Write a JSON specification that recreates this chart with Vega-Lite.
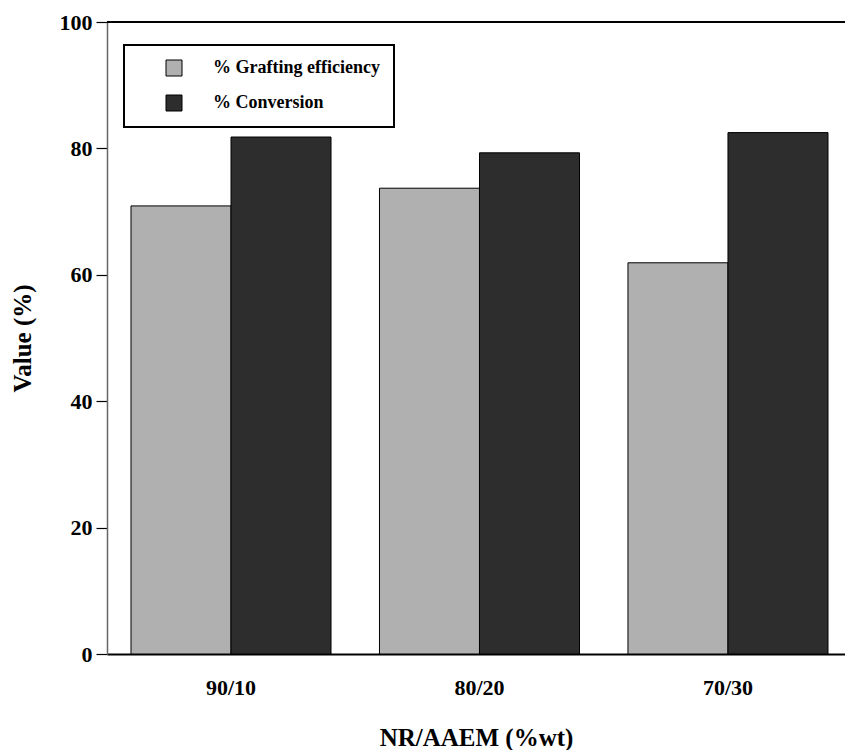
{
  "$schema": "https://vega.github.io/schema/vega-lite/v6.json",
  "width": 738,
  "height": 632,
  "autosize": {"type": "none"},
  "padding": {"left": 107, "top": 22, "right": 0, "bottom": 96},
  "background": "white",
  "config": {
    "view": {"stroke": null},
    "font": "Liberation Serif",
    "axis": {"labelFont": "Liberation Serif", "titleFont": "Liberation Serif", "labelFontWeight": "bold", "titleFontWeight": "bold", "labelColor": "black", "titleColor": "black", "grid": false},
    "legend": {"labelFont": "Liberation Serif", "labelFontWeight": "bold", "labelLimit": 400}
  },
  "data": {
    "values": [
      {"ratio": "90/10", "series": "% Grafting efficiency", "value": 70.9},
      {"ratio": "90/10", "series": "% Conversion", "value": 81.8},
      {"ratio": "80/20", "series": "% Grafting efficiency", "value": 73.7},
      {"ratio": "80/20", "series": "% Conversion", "value": 79.3},
      {"ratio": "70/30", "series": "% Grafting efficiency", "value": 61.9},
      {"ratio": "70/30", "series": "% Conversion", "value": 82.5}
    ]
  },
  "layer": [
    {
      "mark": {"type": "bar", "stroke": "black", "strokeWidth": 1},
      "encoding": {
        "x": {
          "field": "ratio", "type": "nominal", "sort": ["90/10", "80/20", "70/30"],
          "scale": {"paddingInner": 0.195, "paddingOuter": 0.0825, "align": 0.585},
          "axis": {"title": "NR/AAEM (%wt)", "labelAngle": 0, "labelFontSize": 22, "titleFontSize": 25, "ticks": false, "labelPadding": 23, "titlePadding": 27, "domainColor": "black", "domainWidth": 2}
        },
        "xOffset": {"field": "series", "type": "nominal", "sort": ["% Grafting efficiency", "% Conversion"], "scale": {"paddingInner": 0}},
        "y": {
          "field": "value", "type": "quantitative",
          "scale": {"domain": [0, 100], "nice": false},
          "axis": {"title": "Value (%)", "values": [0, 20, 40, 60, 80, 100], "labelFontSize": 22, "titleFontSize": 25, "tickSize": 11, "tickColor": "black", "tickWidth": 1.2, "labelPadding": 4, "titlePadding": 24, "domainColor": "#666666", "domainWidth": 1.5}
        },
        "fill": {
          "field": "series", "type": "nominal",
          "sort": ["% Grafting efficiency", "% Conversion"],
          "scale": {"domain": ["% Grafting efficiency", "% Conversion"], "range": ["#b0b0b0", "#2d2d2d"]},
          "legend": {
            "title": null, "orient": "none", "legendX": 17, "legendY": 23,
            "strokeColor": "black", "padding": 14,
            "symbolType": "square", "symbolSize": 256, "symbolStrokeColor": "black", "symbolStrokeWidth": 1,
            "symbolOffset": 27, "labelOffset": 30, "labelFont": "Liberation Serif", "labelFontWeight": "bold", "labelFontSize": 18, "labelLimit": 400, "rowPadding": 15, "labelColor": "black",
            "encode": {"legend": {"update": {"strokeWidth": {"value": 2}}}}
          }
        }
      }
    },
    {
      "mark": {"type": "rule", "color": "black", "strokeWidth": 1.5},
      "encoding": {
        "y": {
          "datum": 100, "type": "quantitative",
          "axis": {"title": null, "values": [5, 10, 15, 25, 30, 35, 45, 50, 55, 65, 70, 75, 85, 90, 95], "labels": false, "domain": false, "tickSize": 6, "tickColor": "black", "tickWidth": 1}
        }
      }
    }
  ],
  "resolve": {"axis": {"y": "independent"}}
}
